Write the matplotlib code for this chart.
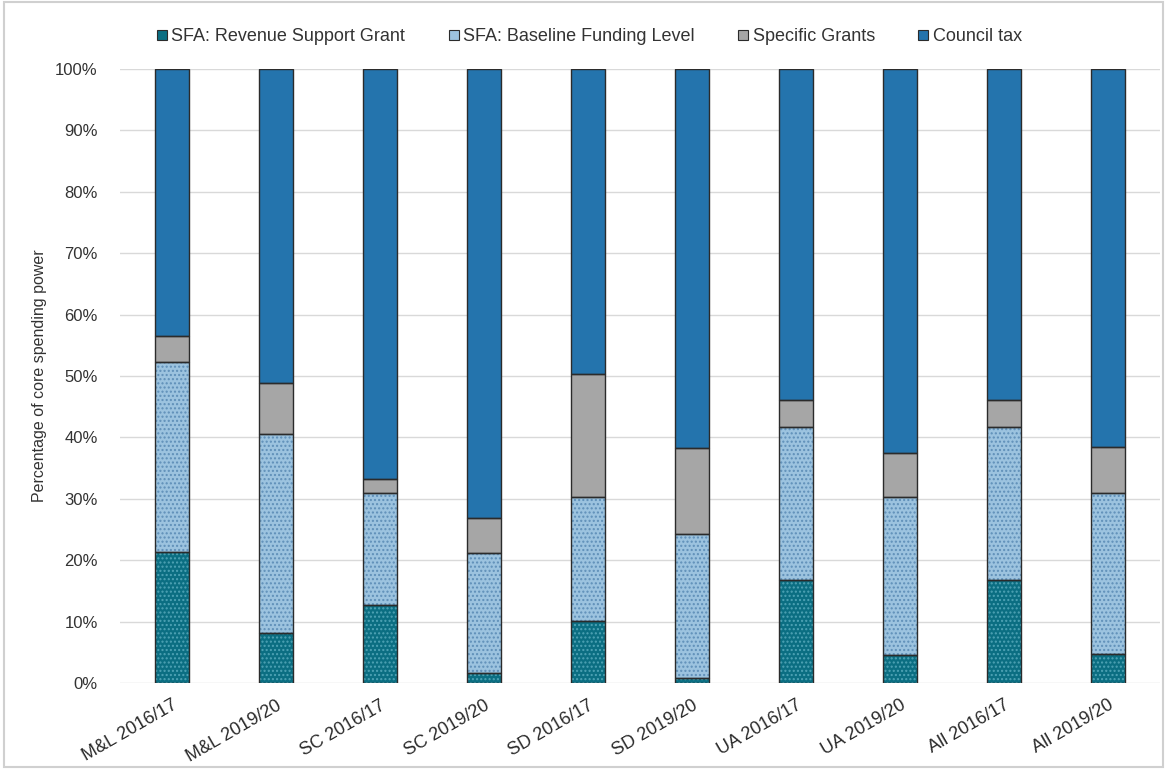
import numpy as np
import matplotlib
matplotlib.use("Agg")
import matplotlib.pyplot as plt
from matplotlib.patches import Patch, Rectangle

plt.rcParams['font.family'] = ['Liberation Sans', 'DejaVu Sans']

categories = ["M&L 2016/17", "M&L 2019/20", "SC 2016/17", "SC 2019/20",
              "SD 2016/17", "SD 2019/20", "UA 2016/17", "UA 2019/20",
              "All 2016/17", "All 2019/20"]

# cumulative tops (percent)
rsg_top = [21.3, 8.2, 12.7, 1.7, 10.1, 0.8, 16.8, 4.6, 16.8, 4.8]
bfl_top = [52.3, 40.5, 30.9, 21.1, 30.3, 24.2, 41.7, 30.3, 41.7, 30.9]
spec_top = [56.5, 48.8, 33.2, 26.8, 50.4, 38.2, 46.1, 37.5, 46.1, 38.4]

rsg = np.array(rsg_top)
bfl = np.array(bfl_top) - np.array(rsg_top)
spec = np.array(spec_top) - np.array(bfl_top)
ctax = 100 - np.array(spec_top)

series = [
    ("SFA: Revenue Support Grant", rsg, "#0b6e82", "#4fa3b5", "...."),
    ("SFA: Baseline Funding Level", bfl, "#9cc3df", "#5f8fb8", "...."),
    ("Specific Grants", spec, "#a6a6a6", None, None),
    ("Council tax", ctax, "#2474ad", None, None),
]

fig = plt.figure(figsize=(11.67, 7.69), dpi=100)
ax = fig.add_axes([0.1028, 0.1118, 0.8912, 0.7985])
x = np.arange(len(categories))
width = 0.32
edge = "#2b2b2b"

plt.rcParams['hatch.linewidth'] = 1.0
bottom = np.zeros(len(categories))
handles = []
for name, vals, color, hcol, hatch in series:
    # fill (and dotted hatch) first, then a separate dark outline
    if hatch:
        ax.bar(x, vals / 100, width, bottom=bottom / 100, color=color,
               edgecolor=hcol, hatch=hatch, linewidth=0, zorder=2)
    else:
        ax.bar(x, vals / 100, width, bottom=bottom / 100, color=color,
               linewidth=0, zorder=2)
    ax.bar(x, vals / 100, width, bottom=bottom / 100, fill=False,
           edgecolor=edge, linewidth=1.0, zorder=3)
    bottom = bottom + vals
    handles.append(Patch(facecolor=color, edgecolor=edge, linewidth=0.8, label=name))

ax.set_xlim(-0.5, len(categories) - 0.5)
ax.set_ylim(0, 1)
ax.set_yticks(np.arange(0, 1.01, 0.1))
ax.set_yticklabels([f"{v}%" for v in range(0, 101, 10)])
ax.yaxis.grid(True, color="#d9d9d9", linewidth=1.0, zorder=0)
ax.set_axisbelow(True)
for s in ax.spines.values():
    s.set_visible(False)
ax.tick_params(axis='y', length=0, labelsize=12, colors="#333333", pad=16)
ax.set_xticks(x)
ax.set_xticklabels(categories, rotation=30, ha='right', rotation_mode='anchor')
ax.tick_params(axis='x', length=0, labelsize=13, colors="#2a2a2a", pad=10)
ax.set_ylabel("Percentage of core spending power", fontsize=11.5, color="#333333", labelpad=6)

fig.legend(handles=handles, loc='center', bbox_to_anchor=(0.505, 0.952), ncol=4,
           frameon=False, fontsize=13, handlelength=0.55, handleheight=0.55,
           handletextpad=0.25, columnspacing=2.4, labelcolor="#333333")

fig.patches.append(Rectangle((0.003, 0.003), 0.994, 0.994, transform=fig.transFigure,
                             fill=False, edgecolor="#d0d0d0", linewidth=1.5))

fig.savefig("out.png", dpi=100)
